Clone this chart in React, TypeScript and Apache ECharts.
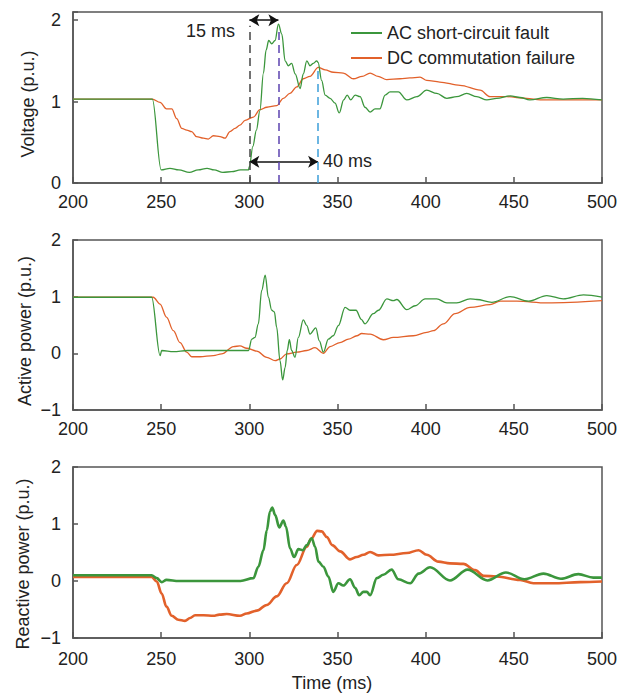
import React, { useEffect, useRef } from "react";
import * as echarts from "echarts";

const xTicks = [200, 250, 300, 350, 400, 450, 500];
const seriesNames = ["AC short-circuit fault", "DC commutation failure"];

const voltageAC = [
  [200, 1.03], [240, 1.03], [245, 1.03], [250, 0.16], [255, 0.18], [260, 0.16], [266, 0.13], [271, 0.16], [276, 0.18],
  [280, 0.16], [285, 0.13], [290, 0.14], [295, 0.16], [299.5, 0.16], [300, 0.2], [302, 0.45], [304, 0.65],
  [306, 0.89], [308, 1.35], [309.5, 1.63], [311, 1.75], [312.7, 1.71], [314.6, 1.75], [316.5, 1.95],
  [318.4, 1.83], [320.3, 1.5], [322.1, 1.44], [324, 1.47], [326, 1.34], [328.8, 1.16], [330.6, 1.34],
  [332.6, 1.5], [334.4, 1.44], [336.3, 1.47], [338.2, 1.5], [339, 1.48], [341, 1.26], [343, 1.08],
  [345.8, 1.04], [348.6, 0.98], [351, 0.86], [353.5, 1.02], [355.5, 1.08], [357.5, 1.02], [360, 1.08],
  [362.8, 1.06], [365.6, 0.93], [368.5, 0.87], [371.3, 0.91], [374, 0.91], [377, 1.08], [379.8, 1.12],
  [384.5, 1.12], [389.3, 1.02], [395, 1.06], [400.6, 1.14], [406.3, 1.1], [412, 1.04], [417.6, 1.06],
  [423.3, 1.1], [429, 1.06], [434.7, 1.02], [440.3, 1.04], [448, 1.07], [453.5, 1.05], [459, 1.02],
  [468.7, 1.05], [478, 1.03], [489, 1.04], [500, 1.02],
];

const voltageDC = [
  [200, 1.03], [240, 1.03], [245, 1.03], [249.4, 0.99], [253, 0.91], [256, 0.91], [258.8, 0.79], [261.7, 0.67],
  [264.5, 0.65], [267.3, 0.63], [270, 0.57], [274, 0.55], [276.7, 0.54], [279.6, 0.58], [283.4, 0.57],
  [286.2, 0.55], [289, 0.63], [291.9, 0.67], [294.7, 0.71], [297.6, 0.77], [302.3, 0.81], [306, 0.9],
  [309.9, 0.93], [315.5, 0.95], [319.3, 1.04], [323, 1.1], [326.9, 1.18], [330.6, 1.28], [334.4, 1.31],
  [339.1, 1.42], [343, 1.39], [347.6, 1.36], [353.3, 1.35], [359, 1.28], [364, 1.31], [368.5, 1.35],
  [373, 1.31], [377.9, 1.27], [385.5, 1.28], [391, 1.29], [396.8, 1.3], [400.6, 1.26], [408, 1.24],
  [419.5, 1.2], [430.9, 1.14], [436.5, 1.06], [446, 1.06], [457.3, 1.04], [465, 1.02], [480, 1.02],
  [500, 1.02],
];

const activeAC = [
  [200, 0.99], [240, 0.99], [244.6, 0.99], [249.4, -0.04], [250.3, 0.05], [257, 0.03], [265, 0.05], [280, 0.05],
  [299.5, 0.05], [301.4, 0.25], [303.2, 0.28], [305.1, 0.52], [307, 1.11], [309, 1.38], [310.8, 0.99],
  [312.7, 0.76], [314.2, 0.73], [315.5, 0.46], [317.4, -0.13], [318.9, -0.47], [320.3, -0.25],
  [321.5, 0.05], [322.7, 0.24], [324, 0.05], [325.9, -0.07], [327.8, 0.28], [330.6, 0.59], [332.6, 0.49],
  [334.4, 0.34], [337.7, 0.45], [339.7, 0.22], [342, 0.02], [344.8, 0.25], [347.6, 0.31], [350.5, 0.49],
  [354.3, 0.81], [357.1, 0.76], [360.5, 0.76], [363.5, 0.6], [365.6, 0.52], [370.3, 0.7], [373.2, 0.76],
  [378, 0.96], [381.7, 0.93], [383.6, 0.95], [389.3, 0.77], [394, 0.84], [399.7, 0.96], [406.3, 0.96],
  [412, 0.89], [417.6, 0.89], [425.2, 0.96], [429, 0.95], [437.5, 0.9], [447.9, 1.0], [458.3, 0.92],
  [468.7, 1.02], [478, 0.96], [489.5, 1.03], [500, 0.99],
];

const activeDC = [
  [200, 0.99], [240, 0.99], [245.5, 0.99], [249.4, 0.87], [253, 0.64], [256.9, 0.4], [260.7, 0.19], [264.5, 0.02],
  [267.3, -0.06], [272, -0.06], [279.6, -0.04], [284.3, -0.01], [291, 0.12], [294.7, 0.13], [298.5, 0.09],
  [304.2, 0.04], [309.9, -0.07], [314.6, -0.13], [317.4, -0.1], [321.2, -0.01], [326.9, 0.02],
  [332.6, 0.05], [337.3, 0.1], [342, 0.0], [345.8, 0.12], [351.4, 0.19], [356.2, 0.25], [361, 0.31],
  [363.7, 0.35], [368.5, 0.34], [376, 0.24], [381.7, 0.28], [393, 0.31], [400.6, 0.37], [404.4, 0.4],
  [410, 0.52], [416.7, 0.7], [425.2, 0.81], [436.5, 0.86], [442.2, 0.92], [451.7, 0.92], [468.7, 0.89],
  [500, 0.93],
];

const reactiveAC = [
  [200, 0.1], [240, 0.1], [244.6, 0.1], [247.5, 0.05], [250.3, -0.02], [253, 0.02], [260, 0.0], [280, 0.0], [295, 0.0],
  [302.3, 0.05], [305.1, 0.25], [308, 0.54], [309.9, 0.89], [311.7, 1.22], [313, 1.29], [314.6, 1.16],
  [317, 0.94], [319.3, 1.06], [320.8, 0.95], [323.1, 0.57], [325.4, 0.42], [327.8, 0.56], [330.3, 0.54],
  [332.6, 0.63], [335.4, 0.75], [337.3, 0.6], [339.2, 0.34], [342, 0.25], [344.8, 0.08], [347.6, -0.19],
  [350.5, -0.04], [353.3, -0.08], [357.1, 0.03], [360, -0.12], [362.3, -0.25], [364.7, -0.19],
  [366.6, -0.19], [368.5, -0.25], [372.3, 0.05], [376, 0.11], [380.7, 0.2], [384.5, 0.03], [391.2, -0.04],
  [396, 0.13], [402.5, 0.24], [413.8, 0.01], [423.8, 0.2], [435, 0.01], [445.5, 0.15], [456, 0.03],
  [466.8, 0.13], [476.7, 0.04], [486.6, 0.12], [495, 0.06], [500, 0.06],
];

const reactiveDC = [
  [200, 0.07], [240, 0.07], [244.6, 0.07], [247.5, -0.01], [250.3, -0.22], [253, -0.45], [256, -0.61], [259.7, -0.68],
  [263.5, -0.7], [266.4, -0.65], [269.2, -0.6], [274, -0.6], [279.6, -0.61], [283, -0.59], [287.2, -0.58],
  [294.7, -0.61], [298.5, -0.57], [304.2, -0.52], [309.9, -0.42], [315.5, -0.27], [321.2, -0.04],
  [326.9, 0.28], [332.6, 0.6], [335, 0.74], [338.5, 0.88], [341, 0.87], [344, 0.77], [347, 0.63],
  [351.5, 0.52], [357.1, 0.38], [360.9, 0.42], [364.7, 0.46], [368.5, 0.51], [373.2, 0.45], [379.8, 0.46],
  [389.3, 0.49], [396, 0.54], [400.6, 0.46], [407.2, 0.34], [413.8, 0.31], [421.4, 0.3], [428, 0.19],
  [432.8, 0.09], [440.3, 0.08], [453.5, 0.02], [461.1, -0.04], [472.4, -0.04], [487.6, -0.02], [500, -0.01],
];

// annotation times (ms)
const faultClear = 300;
const peakTime = 316.5;
const recoverTime = 339;

const GREEN = "#3b963c";
const ORANGE = "#e2612b";
const FONT = "'Liberation Sans', Arial, Helvetica, sans-serif";
const TXT = "#222";

export default function App() {
  const ref = useRef<HTMLDivElement>(null);
  useEffect(() => {
    if (!ref.current) return;
    const chart = echarts.init(ref.current, undefined, { renderer: "svg" });
    const grids = [
      { left: 73, top: 12, width: 529, height: 171 },
      { left: 73, top: 240, width: 529, height: 170 },
      { left: 73, top: 467, width: 529, height: 171 },
    ].map((g) => ({ ...g, show: true, borderColor: "#555", borderWidth: 1.5, backgroundColor: "transparent" }));

    const labelMargins = [10, 10, 12];
    const xAxes = grids.map((_, i) => ({
      type: "value",
      gridIndex: i,
      min: xTicks[0],
      max: xTicks[xTicks.length - 1],
      interval: 50,
      axisLine: { show: true, onZero: false, lineStyle: { color: "#555", width: 1.5 } },
      axisTick: { show: true, inside: true, length: 6, lineStyle: { color: "#555", width: 1.5 } },
      axisLabel: { fontSize: 18, color: TXT, fontFamily: FONT, margin: labelMargins[i] },
      splitLine: { show: false },
    }));
    const yRanges = [
      [0, 2.1],
      [-1, 2],
      [-1, 2],
    ];
    const yAxes = grids.map((_, i) => ({
      type: "value",
      gridIndex: i,
      min: yRanges[i][0],
      max: yRanges[i][1],
      interval: 1,
      axisLine: { show: true, onZero: false, lineStyle: { color: "#555", width: 1.5 } },
      axisTick: { show: true, inside: true, length: 5, lineStyle: { color: "#555", width: 1.5 } },
      axisLabel: {
        fontSize: 18,
        color: TXT,
        fontFamily: FONT,
        margin: 12,
        formatter: (v: number) => (Number.isInteger(v) ? (v < 0 ? "\u2212" + Math.abs(v) : String(v)) : ""),
      },
      splitLine: { show: false },
    }));

    const mk = (name: string, data: number[][], idx: number, color: string, width: number, extra: any = {}) => ({
      name,
      type: "line",
      xAxisIndex: idx,
      yAxisIndex: idx,
      data,
      symbol: "none",
      showSymbol: false,
      smooth: 0.35,
      smoothMonotone: "x",
      lineStyle: { color, width },
      itemStyle: { color },
      ...extra,
    });

    const dashed = (t: number, top: number, color: string) => [
      { coord: [t, 0], lineStyle: { color, type: [8, 5], width: 1.5 } },
      { coord: [t, top] },
    ];

    const option: any = {
      animation: false,
      grid: grids,
      xAxis: xAxes,
      yAxis: yAxes,
      legend: {
        orient: "vertical",
        left: 346,
        top: 19,
        icon: "rect",
        itemWidth: 31,
        itemHeight: 2,
        itemGap: 7,
        data: seriesNames,
        textStyle: { fontSize: 18, color: TXT, fontFamily: FONT, lineHeight: 18 },
      },
      series: [
        mk(seriesNames[1], voltageDC, 0, ORANGE, 1.3, {
          markLine: {
            silent: true,
            symbol: ["arrow", "arrow"],
            symbolSize: [9, 10],
            label: { show: false },
            lineStyle: { color: "#111", width: 1.5, type: "solid" },
            data: [
              [{ coord: [faultClear, 2.0] }, { coord: [peakTime, 2.0] }],
              [{ coord: [faultClear, 0.26] }, { coord: [recoverTime, 0.26] }],
            ],
          },
        }),
        mk(seriesNames[0], voltageAC, 0, GREEN, 1.3, {
          markLine: {
            silent: true,
            symbol: "none",
            label: { show: false },
            data: [
              dashed(faultClear, 1.93, "#444"),
              dashed(peakTime, 1.87, "#5c43b0"),
              dashed(recoverTime, 1.42, "#3d9fd9"),
            ],
          },
        }),
        mk(seriesNames[1], activeDC, 1, ORANGE, 1.3),
        mk(seriesNames[0], activeAC, 1, GREEN, 1.3),
        mk(seriesNames[1], reactiveDC, 2, ORANGE, 2.6),
        mk(seriesNames[0], reactiveAC, 2, GREEN, 2.6),
      ],
      graphic: [
        { type: "text", x: 235, y: 31, style: { text: "15 ms", font: `18px ${FONT}`, fill: TXT, textAlign: "right", textVerticalAlign: "middle", align: "right", verticalAlign: "middle" } },
        { type: "text", x: 323, y: 161, style: { text: "40 ms", font: `18px ${FONT}`, fill: TXT, textAlign: "left", textVerticalAlign: "middle", align: "left", verticalAlign: "middle" } },
        { type: "text", x: 28, y: 104, rotation: Math.PI / 2, style: { text: "Voltage (p.u.)", font: `18px ${FONT}`, fill: TXT, textAlign: "center", textVerticalAlign: "middle", align: "center", verticalAlign: "middle" } },
        { type: "text", x: 25, y: 331, rotation: Math.PI / 2, style: { text: "Active power (p.u.)", font: `18px ${FONT}`, fill: TXT, textAlign: "center", textVerticalAlign: "middle", align: "center", verticalAlign: "middle" } },
        { type: "text", x: 23, y: 564, rotation: Math.PI / 2, style: { text: "Reactive power (p.u.)", font: `18px ${FONT}`, fill: TXT, textAlign: "center", textVerticalAlign: "middle", align: "center", verticalAlign: "middle" } },
        { type: "text", x: 332, y: 683, style: { text: "Time (ms)", font: `18px ${FONT}`, fill: TXT, textAlign: "center", textVerticalAlign: "middle", align: "center", verticalAlign: "middle" } },
      ],
    };
    chart.setOption(option);
    return () => chart.dispose();
  }, []);

  return (
    <div
      ref={ref}
      style={{ position: "absolute", left: 0, top: 0, width: 627, height: 693, background: "#fff" }}
    />
  );
}
